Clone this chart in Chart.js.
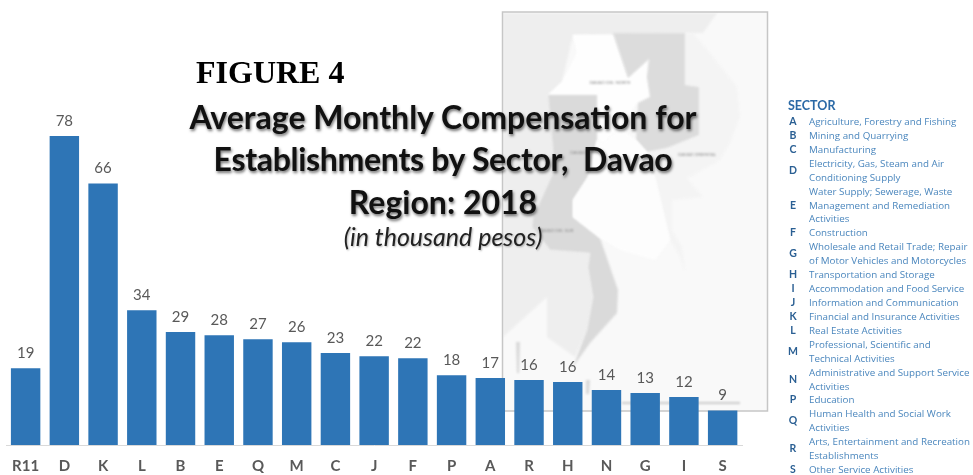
<!DOCTYPE html>
<html><head><meta charset="utf-8">
<script src="https://cdn.jsdelivr.net/npm/chart.js@4"></script>
<style>
html,body{margin:0;padding:0;background:#fff;width:973px;height:475px;overflow:hidden}
#wrap{position:relative;width:973px;height:475px}
canvas{position:absolute;left:0;top:0}
.t{position:absolute;white-space:nowrap}
.fig{left:196px;top:51px;font:bold 32px/42px "Liberation Serif",serif;color:#000}
.ttl{left:143px;width:600px;text-align:center;font:bold 32px/42px Lato,sans-serif;color:#111;text-shadow:1px 2px 3px rgba(0,0,0,.55)}
.sub{left:143px;width:600px;text-align:center;font:italic 25px/28px Lato,sans-serif;color:#222;text-shadow:1px 1px 2px rgba(0,0,0,.3)}
.sec{left:788px;top:98px;font:bold 12.5px/16px Lato,sans-serif;color:#2a69a6;filter:blur(.3px)}
.lg{position:absolute;left:786px;top:115px;width:187px;filter:blur(.3px)}
.row{display:flex;align-items:center}
.k{width:23px;text-align:center;font:bold 10.5px/13.92px Lato,sans-serif;color:#2a5f93;flex:none;box-sizing:border-box;padding-right:9px}
.v{font:9.8px/13.92px "Open Sans",Lato,sans-serif;color:#4a86bd;white-space:pre}
</style></head><body>
<div id="wrap">
<canvas id="c" width="973" height="475"></canvas>
<div class="t fig">FIGURE 4</div>
<div class="t ttl" style="top:96px">Average Monthly Compensation for</div>
<div class="t ttl" style="top:138px;letter-spacing:-.3px">Establishments by Sector,&nbsp; Davao</div>
<div class="t ttl" style="top:181px">Region: 2018</div>
<div class="t sub" style="top:222px">(in thousand pesos)</div>
<div class="t sec">SECTOR</div>
<div class="lg" id="lg"></div>
</div>
<script>
const categories = ['R11','D','K','L','B','E','Q','M','C','J','F','P','A','R','H','N','G','I','S'];
const barValues = [19.4,78,66,34,28.5,27.7,26.7,25.9,23.2,22.4,21.9,17.6,16.9,16.4,15.9,13.9,13.1,12.1,8.7];
const valueLabels = ['19','78','66','34','29','28','27','26','23','22','22','18','17','16','16','14','13','12','9'];
const sectorKeys = ['A','B','C','D','E','F','G','H','I','J','K','L','M','N','P','Q','R','S'];
const sectorNames = [
 'Agriculture, Forestry and Fishing','Mining and Quarrying','Manufacturing',
 'Electricity, Gas, Steam and Air\nConditioning Supply',
 'Water Supply; Sewerage, Waste\nManagement and Remediation\nActivities',
 'Construction','Wholesale and Retail Trade; Repair\nof Motor Vehicles and Motorcycles',
 'Transportation and Storage','Accommodation and Food Service','Information and Communication',
 'Financial and Insurance Activities','Real Estate Activities',
 'Professional, Scientific and\nTechnical Activities','Administrative and Support Service\nActivities',
 'Education','Human Health and Social Work\nActivities','Arts, Entertainment and Recreation\nEstablishments','Other Service Activities'];

document.getElementById('lg').innerHTML = sectorKeys.map((k,i)=>
 `<div class="row"><div class="k">${k}</div><div class="v">${sectorNames[i]}</div></div>`).join('');

const mapShapes = [
 ['#eeeeee',[[503,13],[717,13],[703,33],[573,35],[562,82],[548,95],[553,150],[553,173],[533,217],[532,227],[550,250],[590,253],[588,267],[593,297],[587,330],[575,357],[547,337],[547,297],[503,337]]],
 ['#f4f4f4',[[685,33],[693,33],[710,53],[737,87],[740,117],[730,143],[720,160],[697,173],[687,178],[703,197],[672,200],[672,230],[682,247],[685,272],[680,257],[670,240],[655,177],[647,152],[667,148],[699,135],[699,87],[685,85]]],
 ['#fefefe',[[573,35],[613,35],[628,78],[648,60],[647,78],[650,97],[637,103],[620,128],[603,143],[597,140],[597,95],[548,95],[562,82],[577,53]]],
 ['#dcdcdc',[[613,33],[685,33],[685,85],[699,87],[699,135],[667,148],[647,152],[636,140],[638,103],[650,97],[647,77],[649,59],[628,78]]],
 ['#dadada',[[548,95],[597,95],[597,140],[588,177],[573,200],[573,217],[600,238],[618,290],[617,313],[590,343],[573,367],[587,330],[593,297],[588,267],[590,253],[550,250],[532,227],[533,217],[553,173],[553,150]]],
 ['#fdfdfd',[[597,140],[603,143],[620,128],[636,140],[647,152],[655,177],[670,240],[655,260],[620,250],[600,238],[573,217],[573,200],[588,177]]],
 ['#d9d9d9',[[516,342],[520,342],[519,373],[517,373]]],
 ['#d9d9d9',[[586,380],[590,380],[589,394],[586,394]]]
];
const mapTexts = [['DAVAO DEL NORTE',610,83],['DAVAO ORIENTAL',697,155],['DAVAO',578,153],['DAVAO DEL SUR',556,231]];

const mapPlugin = {
 id:'map',
 beforeDraw(chart){
  const c = chart.ctx; c.save();
  c.fillStyle='#f9f9f9'; c.fillRect(502.5,12,265,399);
  c.filter='blur(.8px)';
  mapShapes.forEach(([col,p])=>{
   c.fillStyle=col; c.beginPath();
   p.forEach((q,i)=> i?c.lineTo(q[0],q[1]):c.moveTo(q[0],q[1]));
   c.closePath(); c.fill();
  });
  c.strokeStyle='#bdbdbd'; c.lineWidth=1.5;
  c.beginPath(); c.moveTo(622,403); c.lineTo(740,403); c.stroke();
  c.fillStyle='#8a8a8a'; c.font='4.5px Lato,sans-serif'; c.textAlign='center'; c.textBaseline='middle';
  mapTexts.forEach(([s,x,y])=>c.fillText(s,x,y));
  c.filter='none';
  c.strokeStyle='#c6c6c6'; c.lineWidth=1.5; c.strokeRect(502.5,12,265,399);
  c.restore();
 }
};
const labelPlugin = {
 id:'vals',
 afterDatasetsDraw(chart){
  const c = chart.ctx, m = chart.getDatasetMeta(0);
  c.save(); c.fillStyle='#595959'; c.font='15px Lato,sans-serif';
  c.textAlign='center'; c.textBaseline='middle';
  m.data.forEach((b,i)=>c.fillText(valueLabels[i],b.x,b.y-15));
  c.restore();
 }
};
new Chart(document.getElementById('c'),{
 type:'bar',
 data:{labels:categories,datasets:[{data:barValues,backgroundColor:'#2e75b6',categoryPercentage:1,barPercentage:.76}]},
 plugins:[mapPlugin,labelPlugin],
 options:{
  responsive:false,animation:false,
  layout:{padding:{left:4,right:231,top:128,bottom:-12}},
  plugins:{legend:{display:false},title:{display:false},tooltip:{enabled:false}},
  scales:{
   y:{display:false,min:0,max:80},
   x:{grid:{display:false,drawTicks:false},border:{color:'#d9d9d9',width:1},
      ticks:{color:'#595959',padding:12,maxRotation:0,autoSkip:false,font:{family:'Lato,sans-serif',size:15,weight:'bold'}}}
  }
 }
});
</script>
</body></html>
